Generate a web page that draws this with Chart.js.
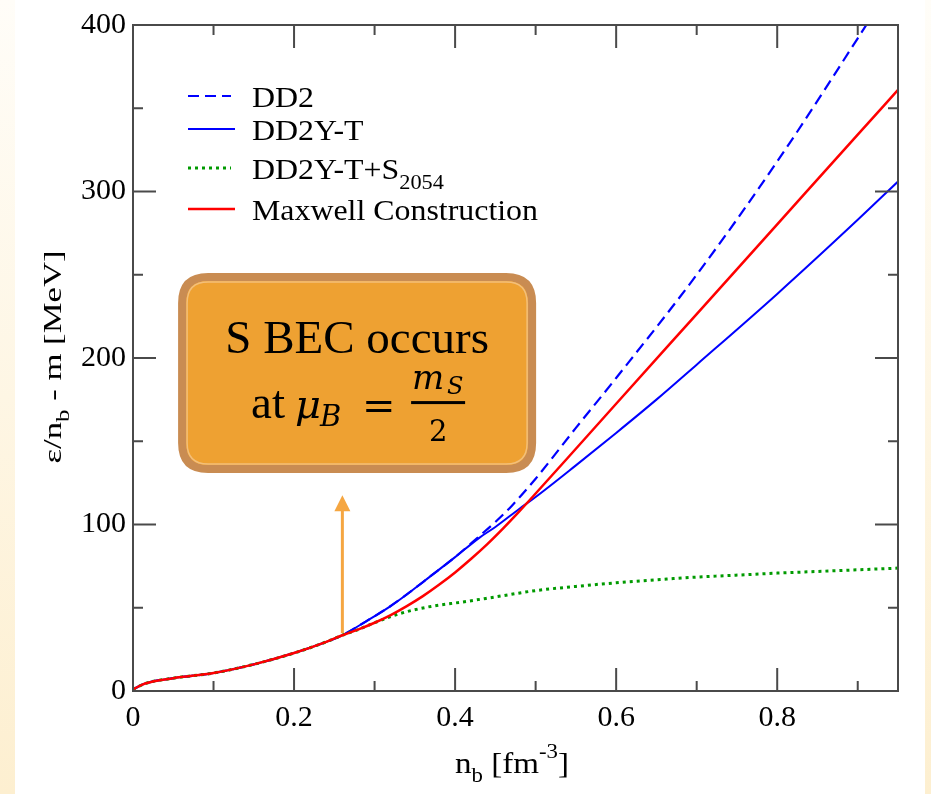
<!DOCTYPE html>
<html><head><meta charset="utf-8">
<script src="https://cdn.jsdelivr.net/npm/chart.js@4"></script>
<style>
html,body{margin:0;padding:0;width:931px;height:794px;overflow:hidden}
body{background:linear-gradient(to bottom,#fffdf8 0%,#fdefd0 100%);position:relative}
#panel{position:absolute;left:15px;top:0;width:910px;height:794px;background:#fff}
#wrap{position:absolute;left:0;top:0;width:931px;height:794px}
</style></head><body>
<div id="panel"></div>
<div id="wrap"><canvas id="c" width="931" height="794"></canvas></div>
<script>
// ---- data ----
const legendLabels = ["DD2", "DD2Y-T", "DD2Y-T+S", "Maxwell Construction"];
const legendSubs = ["", "", "2054", ""];
const xTicks = [0, 0.2, 0.4, 0.6, 0.8];
const xMinorTicks = [0.1, 0.3, 0.5, 0.7, 0.9];
const yTicks = [0, 100, 200, 300, 400];
const yMinorTicks = [50, 150, 250, 350];

const xDD2 = [0, 0.015, 0.05, 0.1, 0.15, 0.2, 0.24, 0.26, 0.29, 0.318, 0.34, 0.368, 0.4, 0.43, 0.45, 0.47, 0.5, 0.55, 0.6, 0.7, 0.8, 0.9, 0.95];
const yDD2 = [1, 4.5, 7.7, 10.8, 16, 22.8, 29.5, 33.5, 42, 50.4, 58, 68.4, 80.4, 93, 101.5, 111, 127.5, 158, 188, 250, 318, 392, 430];

const xDD2YT = [0, 0.015, 0.05, 0.1, 0.15, 0.2, 0.24, 0.26, 0.29, 0.318, 0.34, 0.368, 0.4, 0.43, 0.45, 0.48, 0.5, 0.55, 0.6, 0.65, 0.7, 0.8, 0.9, 0.95];
const yDD2YT = [1, 4.5, 7.7, 10.8, 16, 22.8, 29.5, 33.5, 42, 50.4, 58, 68.4, 80.4, 92, 98.5, 109.5, 116.5, 135.5, 155, 175, 196, 238.5, 283, 306];

const xDD2YTS = [0, 0.015, 0.05, 0.1, 0.15, 0.2, 0.24, 0.26, 0.28, 0.3, 0.33, 0.37, 0.41, 0.45, 0.5, 0.55, 0.6, 0.65, 0.7, 0.75, 0.8, 0.85, 0.9, 0.95];
const yDD2YTS = [1, 4.5, 7.7, 10.8, 16, 22.8, 29.5, 33.5, 37, 41, 46.3, 50.8, 53.5, 56.5, 60.3, 62.8, 65, 66.8, 68.4, 69.6, 70.8, 71.8, 72.8, 73.8];

const xMaxwell = [0, 0.015, 0.05, 0.1, 0.15, 0.2, 0.24, 0.26, 0.28, 0.3, 0.32, 0.34, 0.36, 0.38, 0.4, 0.42, 0.44, 0.46, 0.48, 0.5, 0.55, 0.6, 0.7, 0.8, 0.9, 0.95];
const yMaxwell = [1, 4.5, 7.7, 10.8, 16, 22.8, 29.5, 33.5, 37, 41, 45.6, 51, 57, 63.8, 71.2, 79.4, 88.2, 97.8, 108, 118.6, 145.5, 172.5, 226.4, 280.3, 334.2, 361];

// annotation (data units)
const arrowX = 0.26, arrowFrom = 34.8, arrowTo = 117.5;

const FONT = "'Liberation Serif','Times New Roman',serif";
const MATH = "'DejaVu Serif',serif";
const mk = (xs, ys) => xs.map((x, i) => ({x: x, y: ys[i]}));

const datasets = [
  {label: legendLabels[0], data: mk(xDD2, yDD2), borderColor: '#0000ff', borderDash: [11, 6], borderWidth: 2.2, order: 3},
  {label: legendLabels[1], data: mk(xDD2YT, yDD2YT), borderColor: '#0000ff', borderWidth: 2, order: 2},
  {label: legendLabels[2], data: mk(xDD2YTS, yDD2YTS), borderColor: '#009a00', borderDash: [3, 4], borderWidth: 3, order: 1},
  {label: legendLabels[3], data: mk(xMaxwell, yMaxwell), borderColor: '#ff0000', borderWidth: 2.5, order: 0}
];
datasets.forEach(d => { d.showLine = true; d.pointRadius = 0; d.fill = false; d.cubicInterpolationMode = 'monotone'; });

function setFont(ctx, r) { ctx.font = (r.italic ? 'italic ' : '') + r.size + 'px ' + (r.family || FONT); }
function runsWidth(ctx, runs) {
  let w = 0;
  runs.forEach(r => { setFont(ctx, r); w += ctx.measureText(r.t).width; });
  return w;
}
function drawRuns(ctx, runs, x, y) {
  let cx = x;
  runs.forEach(r => {
    setFont(ctx, r);
    ctx.fillText(r.t, cx, y + (r.dy || 0));
    cx += ctx.measureText(r.t).width;
  });
  return cx;
}
// draw runs stretched along the text direction so that total width == target, centred on (cx, y)
function drawStretched(ctx, runs, cx, y, target) {
  const w = runsWidth(ctx, runs);
  const k = target / w;
  ctx.save();
  ctx.translate(cx, y);
  ctx.scale(k, 1);
  drawRuns(ctx, runs, -w / 2, 0);
  ctx.restore();
}
function roundRect(ctx, x, y, w, h, r) {
  ctx.beginPath();
  ctx.moveTo(x + r, y);
  ctx.lineTo(x + w - r, y);
  ctx.quadraticCurveTo(x + w, y, x + w, y + r);
  ctx.lineTo(x + w, y + h - r);
  ctx.quadraticCurveTo(x + w, y + h, x + w - r, y + h);
  ctx.lineTo(x + r, y + h);
  ctx.quadraticCurveTo(x, y + h, x, y + h - r);
  ctx.lineTo(x, y + r);
  ctx.quadraticCurveTo(x, y, x + r, y);
  ctx.closePath();
}

const framePlugin = {
  id: 'frame',
  afterDraw(chart) {
    const ctx = chart.ctx, a = chart.chartArea, xs = chart.scales.x, ys = chart.scales.y;
    ctx.save();
    ctx.strokeStyle = '#4a4a4a';
    ctx.lineWidth = 2;
    ctx.strokeRect(a.left, a.top, a.right - a.left, a.bottom - a.top);
    ctx.beginPath();
    const MAJ = 23, MIN = 10;
    xTicks.forEach(v => { const p = xs.getPixelForValue(v); ctx.moveTo(p, a.bottom); ctx.lineTo(p, a.bottom - MAJ); ctx.moveTo(p, a.top); ctx.lineTo(p, a.top + MAJ); });
    xMinorTicks.forEach(v => { const p = xs.getPixelForValue(v); ctx.moveTo(p, a.bottom); ctx.lineTo(p, a.bottom - MIN); ctx.moveTo(p, a.top); ctx.lineTo(p, a.top + MIN); });
    yTicks.forEach(v => { const p = ys.getPixelForValue(v); ctx.moveTo(a.left, p); ctx.lineTo(a.left + MAJ, p); ctx.moveTo(a.right, p); ctx.lineTo(a.right - MAJ, p); });
    yMinorTicks.forEach(v => { const p = ys.getPixelForValue(v); ctx.moveTo(a.left, p); ctx.lineTo(a.left + MIN, p); ctx.moveTo(a.right, p); ctx.lineTo(a.right - MIN, p); });
    ctx.stroke();

    // axis titles
    ctx.fillStyle = '#000';
    ctx.textBaseline = 'alphabetic';
    const xr = [{t: 'n', size: 29}, {t: 'b', size: 20, dy: 9}, {t: ' [fm', size: 29}, {t: '-3', size: 20, dy: -15}, {t: ']', size: 29}];
    drawStretched(ctx, xr, 512, 773, 114);
    const yr = [{t: '\u03b5/n', size: 25}, {t: 'b', size: 18, dy: 8}, {t: ' - m [MeV]', size: 25}];
    ctx.save();
    ctx.translate(61, 357);
    ctx.rotate(-Math.PI / 2);
    drawStretched(ctx, yr, 0, 0, 213);
    ctx.restore();
    ctx.restore();

    // legend
    ctx.save();
    const rowsY = [96, 129, 168, 209];
    setFont(ctx, {size: 30});
    const kLeg = 286 / ctx.measureText(legendLabels[3]).width;
    datasets.forEach((d, i) => {
      ctx.strokeStyle = d.borderColor;
      ctx.lineWidth = d.borderWidth;
      ctx.setLineDash(d.borderDash || []);
      ctx.beginPath();
      ctx.moveTo(188, rowsY[i]);
      ctx.lineTo(i % 2 ? 235 : 231, rowsY[i]);
      ctx.stroke();
      ctx.setLineDash([]);
      ctx.fillStyle = '#000';
      const runs = [{t: legendLabels[i], size: 30}];
      if (legendSubs[i]) runs.push({t: legendSubs[i], size: 21, dy: 10});
      ctx.save();
      ctx.translate(252, rowsY[i] + 11);
      ctx.scale(kLeg, 1);
      drawRuns(ctx, runs, 0, 0);
      ctx.restore();
    });
    ctx.restore();
  },
  afterDatasetsDraw(chart) {
    const ctx = chart.ctx, xs = chart.scales.x, ys = chart.scales.y;
    ctx.save();
    // arrow
    const ax = xs.getPixelForValue(arrowX), ay0 = ys.getPixelForValue(arrowFrom), ay1 = ys.getPixelForValue(arrowTo);
    ctx.strokeStyle = '#f5a641'; ctx.fillStyle = '#f5a641'; ctx.lineWidth = 3;
    ctx.beginPath(); ctx.moveTo(ax, ay0); ctx.lineTo(ax, ay1 + 14); ctx.stroke();
    ctx.beginPath(); ctx.moveTo(ax, ay1); ctx.lineTo(ax - 8, ay1 + 16); ctx.lineTo(ax + 8, ay1 + 16); ctx.closePath(); ctx.fill();
    // box
    const bx0 = xs.getPixelForValue(0.056), bx1 = xs.getPixelForValue(0.5006);
    const by0 = ys.getPixelForValue(251), by1 = ys.getPixelForValue(131);
    roundRect(ctx, bx0 + 4, by0 + 4, bx1 - bx0 - 8, by1 - by0 - 8, 26);
    ctx.fillStyle = '#eea132'; ctx.fill();
    ctx.lineWidth = 8; ctx.strokeStyle = '#c98c52'; ctx.stroke();
    roundRect(ctx, bx0 + 9, by0 + 9, bx1 - bx0 - 18, by1 - by0 - 18, 21);
    ctx.lineWidth = 1.5; ctx.strokeStyle = '#f3bf7a'; ctx.stroke();
    // text
    const cx = (bx0 + bx1) / 2, ty = by0;
    ctx.fillStyle = '#000';
    ctx.textBaseline = 'alphabetic';
    ctx.textAlign = 'center';
    ctx.font = '47px ' + FONT;
    ctx.fillText('S BEC occurs', cx, ty + 80);
    ctx.textAlign = 'left';
    ctx.font = '47px ' + FONT;
    ctx.fillText('at', cx - 106, ty + 145);
    ctx.font = 'italic 40px ' + MATH;
    ctx.fillText('\u03bc', cx - 62, ty + 145);
    ctx.font = 'italic 29px ' + MATH;
    ctx.fillText('B', cx - 37, ty + 153);
    ctx.font = '40px ' + MATH;
    ctx.fillText('=', cx + 5, ty + 146);
    ctx.font = 'italic 34px ' + MATH;
    ctx.fillText('m', cx + 55, ty + 116);
    ctx.font = 'italic 24px ' + MATH;
    ctx.fillText('S', cx + 90, ty + 121);
    ctx.fillRect(cx + 54, ty + 128, 54, 3);
    ctx.textAlign = 'center';
    ctx.font = '29px ' + MATH;
    ctx.fillText('2', cx + 81, ty + 168);
    ctx.restore();
  }
};

new Chart(document.getElementById('c'), {
  type: 'scatter',
  data: {datasets: datasets},
  options: {
    responsive: false,
    animation: false,
    layout: {padding: {top: 24, right: 33, left: 0, bottom: 0}},
    plugins: {legend: {display: false}, tooltip: {enabled: false}},
    scales: {
      x: {
        type: 'linear', min: 0, max: 0.95,
        grid: {display: false, drawTicks: false}, border: {display: false},
        afterBuildTicks: s => { s.ticks = xTicks.map(v => ({value: v})); },
        afterFit: s => { s.height = 103; },
        ticks: {padding: 9, color: '#000', font: {family: FONT, size: 30}, maxRotation: 0, callback: v => String(v)}
      },
      y: {
        type: 'linear', min: 0, max: 400,
        grid: {display: false, drawTicks: false}, border: {display: false},
        afterBuildTicks: s => { s.ticks = yTicks.map(v => ({value: v})); },
        afterFit: s => { s.width = 133; },
        ticks: {padding: 7, color: '#000', font: {family: FONT, size: 30}, callback: v => String(v)}
      }
    }
  },
  plugins: [framePlugin]
});
</script>
</body></html>
